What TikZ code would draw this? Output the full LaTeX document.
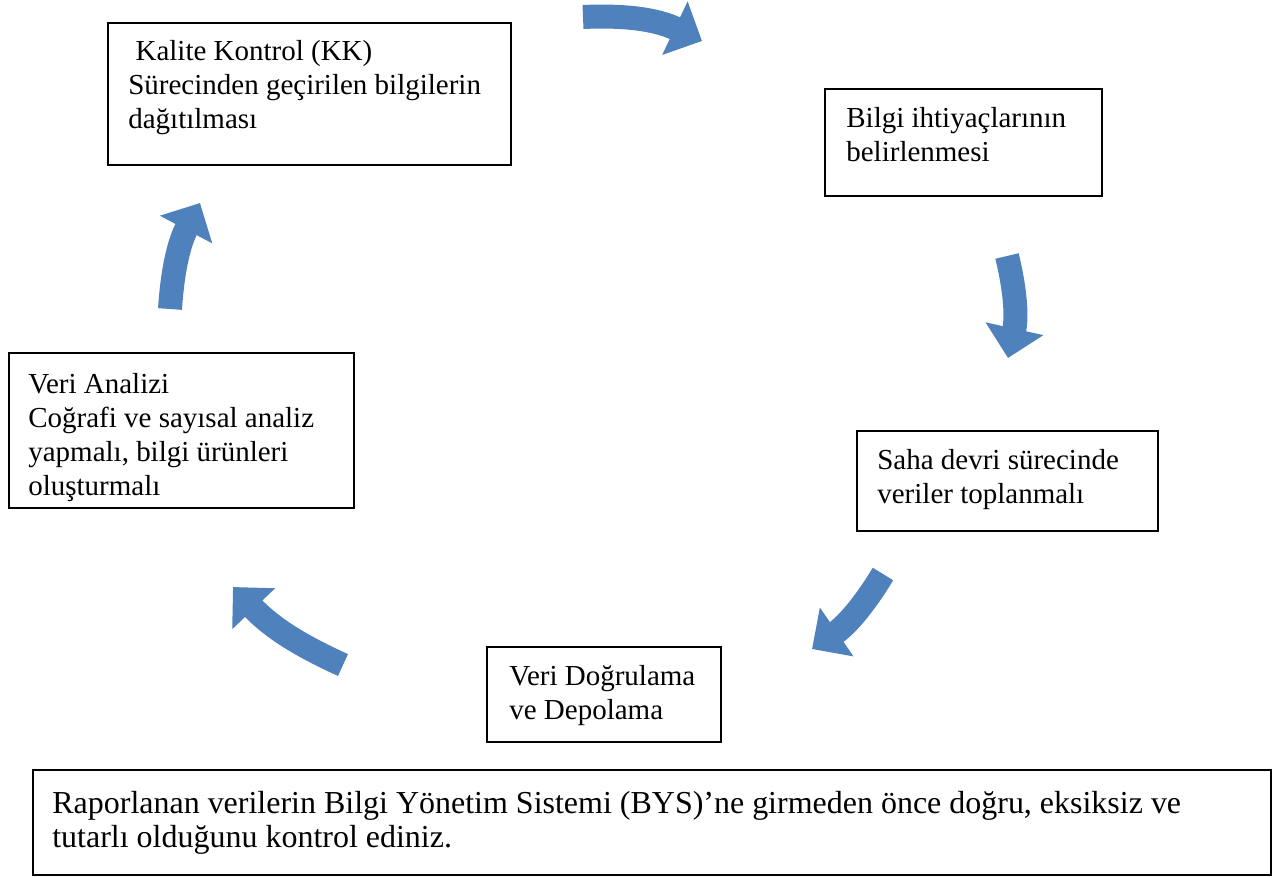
\documentclass[tikz,border=0pt]{standalone}
\usepackage{fontspec}
\setmainfont{Liberation Serif}
\usetikzlibrary{arrows.meta}
\definecolor{cycleblue}{RGB}{79,129,189}
\begin{document}
\begin{tikzpicture}[x=0.02cm, y=0.02cm,
  box/.style={draw, line width=0.9pt, anchor=north west, inner sep=0pt},
  txt/.style={anchor=north west, inner sep=0pt, align=left, font=\fontsize{16.5}{19.3}\selectfont},
  cyclearrow/.style={draw=cycleblue, line width=0.48cm, -{Triangle[width=1.15cm, length=0.6cm]}}]
\useasboundingbox (0,0) rectangle (1280,-877);
% boxes of the cycle
\node[box, minimum width=403*0.02cm, minimum height=142*0.02cm] (kk) at (107,-22) {};
\node[box, minimum width=277*0.02cm, minimum height=107*0.02cm] (ihtiyac) at (824,-88) {};
\node[box, minimum width=301*0.02cm, minimum height=100*0.02cm] (saha) at (856,-430) {};
\node[box, minimum width=234*0.02cm, minimum height=95*0.02cm] (dogrulama) at (486,-646) {};
\node[box, minimum width=345*0.02cm, minimum height=155*0.02cm] (analiz) at (8,-352) {};
\node[box, minimum width=1238*0.02cm, minimum height=105*0.02cm] (not) at (32,-769) {};
% texts
\node[txt] (kktext) at (128,-40) {\ Kalite Kontrol (KK)\\Sürecinden geçirilen bilgilerin\\dağıtılması};
\node[txt] (ihtiyactext) at (846,-107) {Bilgi ihtiyaçlarının\\belirlenmesi};
\node[txt] (sahatext) at (877,-449) {Saha devri sürecinde\\veriler toplanmalı};
\node[txt] (dogrulamatext) at (509,-665) {Veri Doğrulama\\ve Depolama};
\node[txt] (analiztext) at (28,-373) {Veri Analizi\\Coğrafi ve sayısal analiz\\yapmalı, bilgi ürünleri\\oluşturmalı};
\node[txt, font=\fontsize{18.2}{19.6}\selectfont] (nottext) at (52,-791) {Raporlanan verilerin Bilgi Yönetim Sistemi (BYS)’ne girmeden önce doğru, eksiksiz ve\\tutarlı olduğunu kontrol ediniz.};
% arrow ends
\coordinate (a1) at (583,-17);  \coordinate (b1) at (702,-41);
\coordinate (a2) at (1007,-256); \coordinate (b2) at (1008,-358);
\coordinate (a3) at (883,-574); \coordinate (b3) at (812,-649);
\coordinate (a4) at (343,-665); \coordinate (b4) at (233,-587);
\coordinate (a5) at (170,-309); \coordinate (b5) at (200,-203);
\draw[cyclearrow] (a1) to[bend left=14] (b1);
\draw[cyclearrow] (a2) to[bend left=13] (b2);
\draw[cyclearrow] (a3) to[bend left=12] (b3);
\draw[cyclearrow] (a4) to[bend left=11] (b4);
\draw[cyclearrow] (a5) to[bend left=12] (b5);
\end{tikzpicture}
\end{document}
